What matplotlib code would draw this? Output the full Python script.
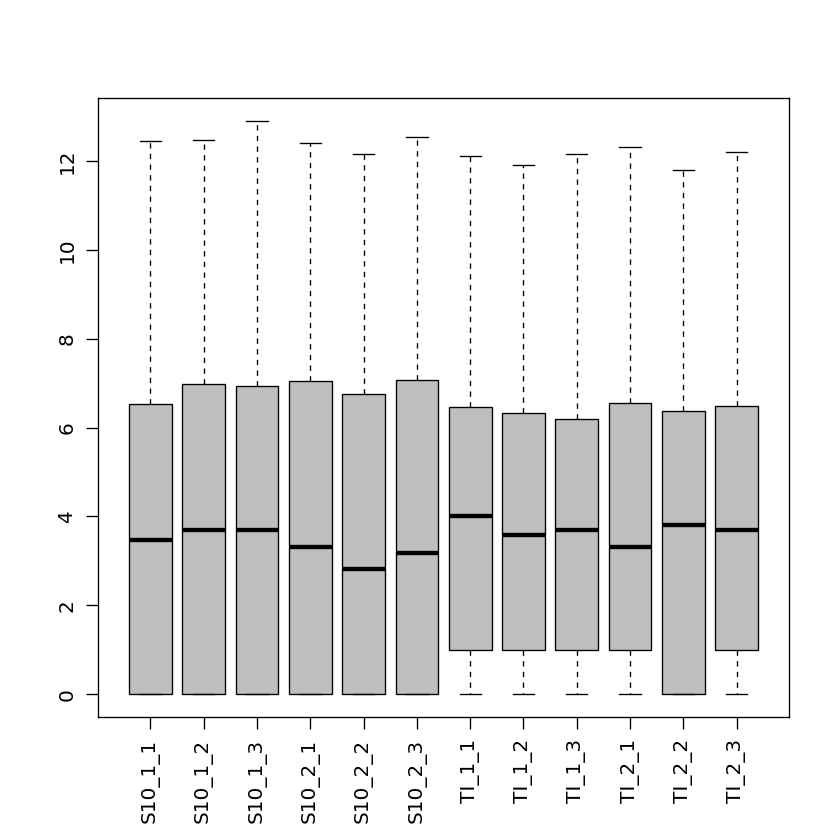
import matplotlib
matplotlib.use('Agg')
import matplotlib.pyplot as plt

plt.rcParams['font.family'] = ['DejaVu Sans']

samples = ['S10_1_1', 'S10_1_2', 'S10_1_3', 'S10_2_1', 'S10_2_2', 'S10_2_3',
           'TI_1_1', 'TI_1_2', 'TI_1_3', 'TI_2_1', 'TI_2_2', 'TI_2_3']
whislo = [0, 0, 0, 0, 0, 0, 0, 0, 0, 0, 0, 0]
q1 = [0, 0, 0, 0, 0, 0, 1, 1, 1, 1, 0, 1]
med = [3.47, 3.70, 3.70, 3.31, 2.82, 3.18, 4.00, 3.58, 3.70, 3.31, 3.80, 3.70]
q3 = [6.53, 6.98, 6.94, 7.05, 6.76, 7.07, 6.46, 6.33, 6.19, 6.56, 6.37, 6.49]
whishi = [12.45, 12.48, 12.90, 12.41, 12.16, 12.55, 12.10, 11.91, 12.16, 12.32, 11.80, 12.20]

stats = [dict(label=s, whislo=a, q1=b, med=c, q3=d, whishi=e, fliers=[])
         for s, a, b, c, d, e in zip(samples, whislo, q1, med, q3, whishi)]

fig = plt.figure(figsize=(7, 7), dpi=120)
ax = fig.add_axes([0.1167, 0.1464, 0.8226, 0.7369])

pos = list(range(1, len(samples) + 1))
ax.bxp(stats, positions=pos, widths=0.8, patch_artist=True, showfliers=False,
       boxprops=dict(facecolor='#BEBEBE', edgecolor='black', linewidth=0.8),
       medianprops=dict(color='black', linewidth=2.6, solid_capstyle='butt'),
       whiskerprops=dict(color='black', linewidth=0.8, linestyle=(0, (4, 4))),
       capprops=dict(color='black', linewidth=0.8),
       capwidths=0.4)

n = len(samples)
ax.set_xlim(0.5 - 0.04 * n, n + 0.5 + 0.04 * n)
top = max(whishi)
ax.set_ylim(-0.04 * top, top + 0.04 * top)

ax.set_xticks(pos)
ax.set_xticklabels(samples, rotation=90, fontsize=12)
ax.set_yticks([0, 2, 4, 6, 8, 10, 12])
ax.set_yticklabels(['0', '2', '4', '6', '8', '10', '12'], rotation=90, fontsize=12, va='center')
ax.tick_params(direction='out', length=7, width=0.8, pad=6)
for sp in ax.spines.values():
    sp.set_linewidth(0.8)

fig.savefig('out.png', dpi=120)
